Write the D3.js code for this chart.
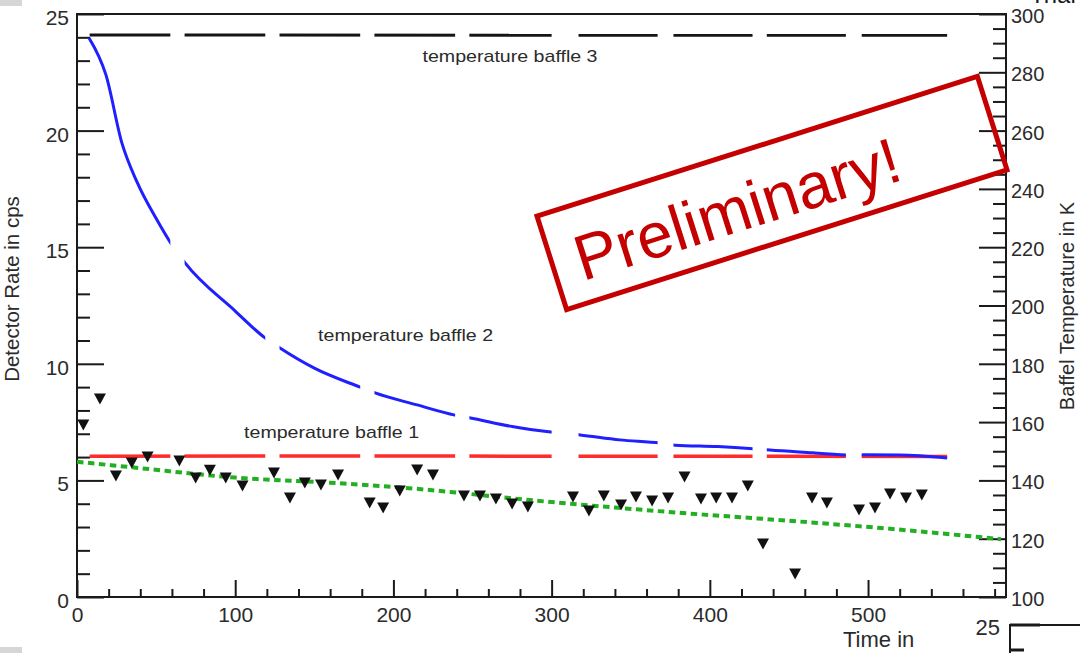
<!DOCTYPE html>
<html>
<head>
<meta charset="utf-8">
<script src="https://cdn.jsdelivr.net/npm/d3@7"></script>
<style>
  html, body { margin: 0; padding: 0; background: #fff; }
  svg { display: block; font-family: "Liberation Sans", Arial, sans-serif; }
</style>
</head>
<body>
<svg id="chart" width="1080" height="653"></svg>
<script>
// Detector rate measurements: time (s) and rate (cps)
const rateTime = [4, 14.5, 24.6, 34.6, 44.6, 64.7, 75, 84, 94, 104.6, 124.5, 134.6, 144, 154.2,
  165, 185, 193.5, 204, 215, 225, 244.6, 254.7, 264.8, 275, 285, 313.5, 323.6, 333, 343.9,
  353.3, 363.5, 373.6, 384, 394.4, 404, 414, 424, 433.6, 453.9, 464.6, 474, 494.3, 504.4,
  513.9, 524, 534];
const rateCps = [7.38, 8.49, 5.19, 5.75, 6.0, 5.83, 5.1, 5.44, 5.1, 4.76, 5.32, 4.25, 4.89, 4.8,
  5.23, 4.03, 3.82, 4.55, 5.45, 5.23, 4.33, 4.33, 4.2, 3.99, 3.86, 4.29, 3.69, 4.33, 3.95,
  4.29, 4.12, 4.25, 5.15, 4.2, 4.25, 4.25, 4.76, 2.27, 0.99, 4.25, 4.03, 3.73, 3.82,
  4.42, 4.25, 4.37];

// Fitted trend of the detector rate
const fitTime = [0, 35, 100, 160, 200, 300, 383, 444, 508, 584];
const fitRate = [5.8, 5.56, 5.12, 4.9, 4.72, 4.07, 3.6, 3.3, 2.96, 2.48];

// Baffle temperatures (K) over time (s)
const baffle1Time = [8, 150, 300, 550];
const baffle1Temp = [148.3, 148.4, 148.3, 148.2];
const baffle2Time = [7.6, 18.3, 28.4, 37.9, 50.6, 58.8, 68.3, 100, 118.8, 128.3, 150, 178.9,
  188.4, 215, 238.9, 248, 275, 299.6, 318, 343, 368.5, 378, 405, 428.6, 438, 465, 489.3,
  498, 520, 550];
const baffle2Temp = [291.8, 279.1, 255.7, 242.4, 229.3, 221.8, 214.6, 198.1, 188.9, 185.4,
  178.5, 172.0, 170.0, 165.9, 162.4, 161.5, 158.5, 156.6, 155.6, 153.9, 152.8, 152.1, 151.6,
  150.8, 150.4, 149.5, 148.7, 148.8, 148.7, 147.7];
const baffle3Time = [8, 550];
const baffle3Temp = [292.8, 292.7];

// Curve labels and where they sit (time s, temperature K)
const baffleNames = ["temperature baffle 1", "temperature baffle 2", "temperature baffle 3"];
const baffleLabelTime = [160.9, 207.7, 273.7];
const baffleLabelTemp = [154.5, 187.8, 283.5];

// Axis tick values
const timeTicks = [0, 100, 200, 300, 400, 500];
const rateTicks = [0, 5, 10, 15, 20, 25];
const tempTicks = [100, 120, 140, 160, 180, 200, 220, 240, 260, 280, 300];

const svg = d3.select("#chart");
const L = 77, R = 1006, T = 14, B = 597;

const x = d3.scaleLinear().domain([0, 587.2]).range([L, R]);
const yRate = d3.scaleLinear().domain([0, 25]).range([B, T]);
const yTemp = d3.scaleLinear().domain([100, 300]).range([B, T]);

const ink = "#1a1a1a";
const textInk = "#2b2b2b";

// slide fragments around the plot
svg.append("rect").attr("x", 0).attr("y", 0).attr("width", 22).attr("height", 6).attr("fill", "#d6d6d6");
svg.append("rect").attr("x", 0).attr("y", 647).attr("width", 22).attr("height", 6).attr("fill", "#d6d6d6");
svg.append("text").attr("x", 1030).attr("y", 3).attr("font-size", 24).attr("fill", ink).text("Trial");
svg.append("text").attr("x", 1000).attr("y", 635).attr("text-anchor", "end").attr("font-size", 22).attr("fill", textInk).text("25");
svg.append("path").attr("d", "M1010,653V625H1080").attr("fill", "none").attr("stroke", ink).attr("stroke-width", 2);
svg.append("path").attr("d", "M1010,625H1040M1010,650H1024").attr("fill", "none").attr("stroke", ink).attr("stroke-width", 3);

// ---- axes (ticks point into the frame) ----
function styleAxis(g) {
  g.select(".domain").remove();
  g.selectAll(".tick line").attr("stroke", ink).attr("stroke-width", 2);
  g.selectAll(".tick text").attr("fill", textInk);
}

const minorRate = d3.range(0, 25.001, 1).filter(v => !rateTicks.includes(v));
const minorTime = d3.range(0, 587, 20).filter(v => !timeTicks.includes(v));
const minorTemp = d3.range(100, 300.001, 5).filter(v => !tempTicks.includes(v));

// left axis: rate
svg.append("g").attr("transform", `translate(${L},0)`)
  .call(d3.axisLeft(yRate).tickValues(minorRate).tickSize(-13).tickFormat(""))
  .call(styleAxis);
svg.append("g").attr("transform", `translate(${L},0)`)
  .call(d3.axisLeft(yRate).tickValues(rateTicks).tickSize(-27).tickPadding(8).tickFormat(d3.format("d")))
  .call(styleAxis)
  .call(g => g.selectAll(".tick text").attr("font-size", 21).attr("dy", "0.5em"));

// bottom axis: time
svg.append("g").attr("transform", `translate(0,${B})`)
  .call(d3.axisBottom(x).tickValues(minorTime).tickSize(-8).tickFormat(""))
  .call(styleAxis);
svg.append("g").attr("transform", `translate(0,${B})`)
  .call(d3.axisBottom(x).tickValues(timeTicks).tickSize(-17).tickFormat(d3.format("d")))
  .call(styleAxis)
  .call(g => g.selectAll(".tick text").attr("font-size", 21).attr("y", 25).attr("dy", 0));

// right axis: temperature
svg.append("g").attr("transform", `translate(${R},0)`)
  .call(d3.axisRight(yTemp).tickValues(minorTemp).tickSize(-13).tickFormat(""))
  .call(styleAxis);
svg.append("g").attr("transform", `translate(${R},0)`)
  .call(d3.axisRight(yTemp).tickValues(tempTicks).tickSize(-27).tickPadding(5).tickFormat(d3.format("d")))
  .call(styleAxis)
  .call(g => g.selectAll(".tick text").attr("font-size", 20).attr("dy", "0.42em"));

// frame
svg.append("rect").attr("x", L).attr("y", T).attr("width", R - L).attr("height", B - T)
  .attr("fill", "none").attr("stroke", ink).attr("stroke-width", 2);

// axis titles
svg.append("text").attr("transform", "translate(18.5,289) rotate(-90)")
  .attr("text-anchor", "middle").attr("font-size", 20.5).attr("fill", textInk)
  .text("Detector Rate in cps");
svg.append("text").attr("transform", "translate(1074,306) rotate(-90)")
  .attr("text-anchor", "middle").attr("font-size", 20).attr("fill", textInk)
  .text("Baffel Temperature in K");
svg.append("text").attr("x", 843).attr("y", 647).attr("font-size", 22).attr("fill", textInk)
  .text("Time in");

// ---- dashed temperature curves: dashes cut at fixed time gaps ----
const dashGaps = [[59, 68], [119, 128], [179, 188], [239, 248], [300, 317], [367, 377], [427, 436], [486, 496]];
const dashEdges = [0, ...dashGaps.flat(), 587.2];
const clip = svg.append("defs").append("clipPath").attr("id", "dash-clip");
for (let i = 0; i < dashEdges.length; i += 2) {
  clip.append("rect")
    .attr("x", x(dashEdges[i])).attr("y", 0)
    .attr("width", x(dashEdges[i + 1]) - x(dashEdges[i])).attr("height", 653);
}

const tempLine = d3.line().x(d => x(d[0])).y(d => yTemp(d[1])).curve(d3.curveMonotoneX);
const baffles = [
  { t: baffle1Time, v: baffle1Temp, color: "#ff2a2a", w: 3.5 },
  { t: baffle2Time, v: baffle2Temp, color: "#1f1fff", w: 3 },
  { t: baffle3Time, v: baffle3Temp, color: "#151515", w: 3 }
];
const curves = svg.append("g").attr("clip-path", "url(#dash-clip)");
baffles.forEach(b => {
  curves.append("path")
    .datum(b.t.map((t, i) => [t, b.v[i]]))
    .attr("d", tempLine)
    .attr("fill", "none").attr("stroke", b.color).attr("stroke-width", b.w);
});

// curve labels
baffleNames.forEach((name, i) => {
  svg.append("text")
    .attr("x", x(baffleLabelTime[i])).attr("y", yTemp(baffleLabelTemp[i]))
    .attr("text-anchor", "middle").attr("font-size", 17).attr("fill", textInk)
    .attr("textLength", 175).attr("lengthAdjust", "spacingAndGlyphs")
    .text(name);
});

// ---- fitted rate trend ----
svg.append("path")
  .datum(fitTime.map((t, i) => [t, fitRate[i]]))
  .attr("d", d3.line().x(d => x(d[0])).y(d => yRate(d[1])).curve(d3.curveMonotoneX))
  .attr("fill", "none").attr("stroke", "#22b022").attr("stroke-width", 4)
  .attr("stroke-dasharray", "6.5,4.5");

// ---- rate markers (downward triangles) ----
const tri = "M-6,-5.5L6,-5.5L0,5.5Z";
svg.append("g").selectAll("path")
  .data(rateTime.map((t, i) => [t, rateCps[i]]))
  .join("path")
  .attr("transform", d => `translate(${x(d[0])},${yRate(d[1])})`)
  .attr("d", tri).attr("fill", "#111");

// ---- "Preliminary!" stamp ----
const stamp = svg.append("g").attr("transform", "translate(772,193) rotate(-17.6)");
stamp.append("rect").attr("x", -231).attr("y", -49).attr("width", 462).attr("height", 98)
  .attr("fill", "none").attr("stroke", "#c40000").attr("stroke-width", 5);
stamp.append("text").attr("x", -207).attr("y", 27).attr("font-size", 64).attr("fill", "#c40000")
  .text("Preliminary!");
</script>
</body>
</html>
